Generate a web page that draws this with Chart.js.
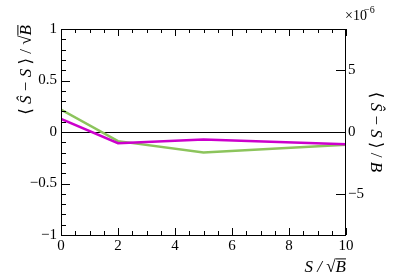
<!DOCTYPE html>
<html>
<head>
<meta charset="utf-8">
<script src="https://cdn.jsdelivr.net/npm/chart.js@4.4.1/dist/chart.umd.min.js"></script>
<style>
  html, body { margin: 0; padding: 0; background: #fff; }
  #wrap { width: 407px; height: 277px; }
</style>
</head>
<body>
<div id="wrap"><canvas id="chart" width="407" height="277"></canvas></div>
<script>
// values
const xValues = [0, 2, 5, 10];
const magentaValues = [0.128, -0.108, -0.073, -0.118];
const greenValues = [0.218, -0.089, -0.2, -0.124];

const xTicks = [0, 2, 4, 6, 8, 10];
const yTicks = [-1, -0.5, 0, 0.5, 1];
const y2Ticks = [-5e-6, 0, 5e-6];

const FONT = '"Liberation Serif", "DejaVu Serif", serif';

function fmt(v) {
  const s = String(v);
  return v < 0 ? '\u2212' + s.slice(1) : s;
}

// draws [text, italic, overline] pieces starting at (0,0), aligned by 'align'
function drawRich(ctx, parts, size, align) {
  const widths = parts.map(p => {
    ctx.font = (p[1] ? 'italic ' : '') + size + 'px ' + FONT;
    return ctx.measureText(p[0]).width;
  });
  const total = widths.reduce((a, b) => a + b, 0);
  let cx = align === 'right' ? -total : align === 'center' ? -total / 2 : 0;
  ctx.textAlign = 'left';
  parts.forEach((p, i) => {
    ctx.font = (p[1] ? 'italic ' : '') + size + 'px ' + FONT;
    ctx.fillText(p[0], cx, 0);
    if (p[2]) {
      ctx.beginPath();
      ctx.moveTo(cx, -size * 0.8 + 0.5);
      ctx.lineTo(cx + widths[i], -size * 0.8 + 0.5);
      ctx.stroke();
    }
    cx += widths[i];
  });
}

const axesPlugin = {
  id: 'rootAxes',
  beforeDatasetsDraw(chart) {
    const { ctx, chartArea: a, scales } = chart;
    const y0 = scales.y.getPixelForValue(0);
    ctx.save();
    ctx.strokeStyle = '#000';
    ctx.lineWidth = 1;
    ctx.beginPath();
    ctx.moveTo(a.left, Math.round(y0) + 0.5);
    ctx.lineTo(a.right, Math.round(y0) + 0.5);
    ctx.stroke();
    ctx.restore();
  },
  afterDraw(chart) {
    const { ctx, chartArea: a, scales } = chart;
    const x = scales.x, y = scales.y, y2 = scales.y2;
    ctx.save();
    ctx.strokeStyle = '#000';
    ctx.lineWidth = 1;
    ctx.strokeRect(a.left + 0.5, a.top + 0.5, a.right - a.left - 1, a.bottom - a.top);

    ctx.beginPath();
    // x ticks, bottom and top
    for (let v = 0; v <= 10.001; v += 0.5) {
      const px = Math.round(x.getPixelForValue(v)) + 0.5;
      const len = Math.abs(v % 2) < 1e-6 ? 7 : 4;
      ctx.moveTo(px, a.bottom); ctx.lineTo(px, a.bottom - len);
      ctx.moveTo(px, a.top); ctx.lineTo(px, a.top + len);
    }
    // left y ticks
    for (let i = -10; i <= 10; i++) {
      const v = i / 10;
      const py = Math.round(y.getPixelForValue(v)) + 0.5;
      const len = i % 5 === 0 ? 9 : 5;
      ctx.moveTo(a.left, py); ctx.lineTo(a.left + len, py);
    }
    // right y ticks
    y2Ticks.forEach(v => {
      const py = Math.round(y2.getPixelForValue(v)) + 0.5;
      ctx.moveTo(a.right, py); ctx.lineTo(a.right - 10, py);
    });
    ctx.stroke();

    ctx.fillStyle = '#000';
    ctx.font = '15px ' + FONT;
    // x tick labels
    ctx.textAlign = 'center';
    ctx.textBaseline = 'middle';
    xTicks.forEach(v => ctx.fillText(fmt(v), x.getPixelForValue(v), a.bottom + 11));
    // left tick labels
    ctx.textAlign = 'right';
    yTicks.forEach(v => ctx.fillText(fmt(v), a.left - 4, y.getPixelForValue(v)));
    // right tick labels
    ctx.textAlign = 'left';
    y2Ticks.forEach(v => ctx.fillText(fmt(Math.round(v * 1e6)), a.right + 2, y2.getPixelForValue(v)));

    // exponent
    ctx.textBaseline = 'alphabetic';
    ctx.font = '14px ' + FONT;
    ctx.fillText('\u00d710', a.right - 1, 20);
    ctx.font = '10px ' + FONT;
    ctx.fillText('\u22126', a.right + 18, 13);

    // x title: S / sqrt(B)
    ctx.save();
    ctx.translate(a.right, 272);
    drawRich(ctx, [['S', true], [' / ', true], ['\u221a', false], ['B', true, true]], 17, 'right');
    ctx.restore();

    // left title
    ctx.save();
    ctx.translate(31, a.top - 4);
    ctx.rotate(-Math.PI / 2);
    drawRich(ctx, [['\u27e8 ', false], ['\u015c', true], [' \u2212 ', false], ['S', true],
      [' \u27e9 / ', false], ['\u221a', false], ['B', true, true]], 17, 'right');
    ctx.restore();

    // right title
    ctx.save();
    ctx.translate(371, (a.top + a.bottom) / 2);
    ctx.rotate(Math.PI / 2);
    drawRich(ctx, [['\u27e8 ', false], ['\u015c', true], [' \u2212 ', false], ['S', true],
      [' \u27e9 / ', false], ['B', true]], 17, 'center');
    ctx.restore();

    ctx.restore();
  }
};

const toPoints = vals => vals.map((v, i) => ({ x: xValues[i], y: v }));

new Chart(document.getElementById('chart'), {
  type: 'line',
  data: {
    datasets: [
      {
        label: 'magenta',
        data: toPoints(magentaValues),
        borderColor: '#cc00cc',
        borderWidth: 2.5,
        pointRadius: 0,
        tension: 0,
        fill: false,
        yAxisID: 'y'
      },
      {
        label: 'green',
        data: toPoints(greenValues),
        borderColor: '#8cc45c',
        borderWidth: 2.5,
        pointRadius: 0,
        tension: 0,
        fill: false,
        yAxisID: 'y'
      }
    ]
  },
  options: {
    responsive: false,
    animation: false,
    layout: { padding: { left: 61, right: 61, top: 29, bottom: 42 } },
    plugins: { legend: { display: false }, tooltip: { enabled: false } },
    scales: {
      x: { type: 'linear', min: 0, max: 10, display: false },
      y: { type: 'linear', min: -1, max: 1, display: false },
      y2: { type: 'linear', position: 'right', min: -8.3e-6, max: 8.3e-6, display: false }
    }
  },
  plugins: [axesPlugin]
});
</script>
</body>
</html>
